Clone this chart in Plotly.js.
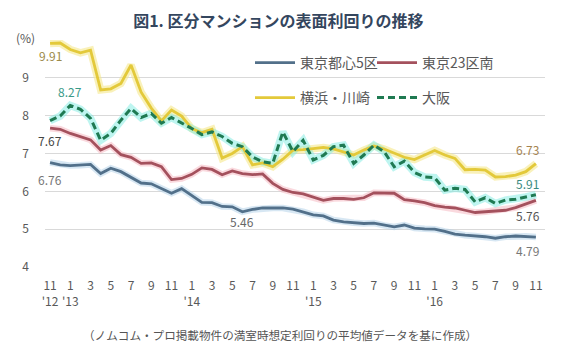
<!DOCTYPE html>
<html>
<head>
<meta charset="utf-8">
<script src="https://cdn.plot.ly/plotly-3.0.1.min.js"></script>
<style>html,body{margin:0;padding:0;background:#fff;}#chart{width:568px;height:358px;}</style>
</head>
<body>
<div id="chart"></div>
<script>
// Months Nov 2012 .. Nov 2016
const months = [
  "2012-11","2012-12",
  "2013-01","2013-02","2013-03","2013-04","2013-05","2013-06","2013-07","2013-08","2013-09","2013-10","2013-11","2013-12",
  "2014-01","2014-02","2014-03","2014-04","2014-05","2014-06","2014-07","2014-08","2014-09","2014-10","2014-11","2014-12",
  "2015-01","2015-02","2015-03","2015-04","2015-05","2015-06","2015-07","2015-08","2015-09","2015-10","2015-11","2015-12",
  "2016-01","2016-02","2016-03","2016-04","2016-05","2016-06","2016-07","2016-08","2016-09","2016-10","2016-11"
];
const tickMonths = ["2012-11","2013-01","2013-03","2013-05","2013-07","2013-09","2013-11","2014-01","2014-03","2014-05","2014-07","2014-09","2014-11","2015-01","2015-03","2015-05","2015-07","2015-09","2015-11","2016-01","2016-03","2016-05","2016-07","2016-09","2016-11"];
const tickLabels = ["11<br>'12","1<br>'13","3","5","7","9","11","1<br>'14","3","5","7","9","11","1<br>'15","3","5","7","9","11","1<br>'16","3","5","7","9","11"];

const tokyo5 = [6.76,6.70,6.68,6.69,6.71,6.47,6.61,6.52,6.36,6.22,6.20,6.08,5.95,6.07,5.90,5.71,5.70,5.60,5.59,5.46,5.52,5.56,5.56,5.56,5.53,5.46,5.38,5.35,5.24,5.19,5.17,5.15,5.16,5.10,5.06,5.11,5.03,5.01,5.00,4.94,4.87,4.84,4.82,4.80,4.76,4.80,4.82,4.81,4.79];
const tokyo23s = [7.67,7.64,7.53,7.44,7.36,7.09,7.21,6.97,6.90,6.74,6.75,6.65,6.31,6.34,6.45,6.62,6.58,6.44,6.54,6.47,6.44,6.46,6.21,6.05,5.97,5.93,5.85,5.76,5.81,5.81,5.79,5.83,5.96,5.96,5.95,5.78,5.75,5.70,5.62,5.58,5.56,5.50,5.44,5.46,5.49,5.50,5.57,5.66,5.76];
const yokohama = [9.91,9.92,9.75,9.66,9.73,8.68,8.71,8.85,9.34,8.62,8.20,7.86,8.15,7.99,7.66,7.55,7.64,6.88,7.00,7.18,6.70,6.75,6.65,6.85,7.09,7.10,7.13,7.16,7.12,7.04,6.96,7.09,7.20,7.12,7.00,6.90,6.84,6.96,7.08,6.96,6.87,6.57,6.58,6.56,6.38,6.39,6.43,6.52,6.73];
const osaka = [7.87,7.99,8.27,8.17,7.93,7.35,7.53,7.88,8.19,7.95,8.06,7.80,7.95,7.81,7.66,7.50,7.57,7.45,7.27,7.18,6.91,6.78,6.74,7.57,7.05,7.35,6.83,6.95,7.18,7.22,6.74,6.96,7.22,7.05,6.65,6.80,6.50,6.38,6.36,6.03,6.08,6.05,5.72,5.83,5.68,5.77,5.79,5.85,5.91];

const seriesNames = ["東京都心5区","東京23区南","横浜・川崎","大阪"];

const FONT = "'Noto Sans CJK JP', 'Noto Sans', sans-serif";

function glow(y, color, w) {
  return {x: months, y: y, type: 'scatter', mode: 'lines', showlegend: false, hoverinfo: 'skip',
          line: {color: color, width: w, shape: 'linear'}, cliponaxis: false};
}

const traces = [
  glow(tokyo5, 'rgba(175,208,232,0.5)', 6.5),
  glow(tokyo23s, 'rgba(245,180,190,0.5)', 6.5),
  glow(yokohama, 'rgba(245,232,140,0.6)', 7.5),
  glow(osaka, 'rgba(125,235,225,0.5)', 7.5),
  {x: months, y: tokyo5, name: seriesNames[0], type: 'scatter', mode: 'lines', legend: 'legend',
   line: {color: '#52708a', width: 2.8}, cliponaxis: false},
  {x: months, y: tokyo23s, name: seriesNames[1], type: 'scatter', mode: 'lines', legend: 'legend',
   line: {color: '#a4515d', width: 2.8}, cliponaxis: false},
  {x: months, y: yokohama, name: seriesNames[2], type: 'scatter', mode: 'lines', legend: 'legend2',
   line: {color: '#e3c93a', width: 2.8}, cliponaxis: false},
  {x: months, y: osaka, name: seriesNames[3], type: 'scatter', mode: 'lines', legend: 'legend2',
   line: {color: '#1f7a52', width: 3, dash: '7px,4px'}, cliponaxis: false}
];

const last = months.length - 1;
function lab(xi, y, txt, color, dx, dy) {
  return {x: months[xi], y: y, xref: 'x', yref: 'y', text: txt, showarrow: false,
          xanchor: 'center', yanchor: 'middle',
          xshift: dx, yshift: dy, font: {family: FONT, size: 12, color: color}};
}

const annotations = [
  lab(0, yokohama[0], yokohama[0].toFixed(2), '#9c8a4a', 0, -12),
  lab(2, osaka[2], osaka[2].toFixed(2), '#3a9a88', 0, 14),
  lab(0, tokyo23s[0], tokyo23s[0].toFixed(2), '#444444', 0, -12),
  lab(0, tokyo5[0], tokyo5[0].toFixed(2), '#777777', 0, -17),
  lab(19, tokyo5[19], tokyo5[19].toFixed(2), '#666666', 0, -10),
  lab(last, yokohama[last], yokohama[last].toFixed(2), '#a58350', -8, 14),
  lab(last, osaka[last], osaka[last].toFixed(2), '#3a8a80', -8, 11),
  lab(last, tokyo23s[last], tokyo23s[last].toFixed(2), '#555555', -8, -15),
  lab(last, tokyo5[last], tokyo5[last].toFixed(2), '#777777', -8, -13),
  {x: (25 - 45) / 500, y: 1 - (38 - 40) / 227, xref: 'paper', yref: 'paper', text: '(%)', showarrow: false,
   xanchor: 'center', yanchor: 'middle', font: {family: FONT, size: 12, color: '#555555'}},
  {text: '（ノムコム・プロ掲載物件の満室時想定利回りの平均値データを基に作成）', xref: 'paper', yref: 'paper',
   x: (280 - 45) / 500, y: -(335 - 267) / 227, xanchor: 'center', yanchor: 'middle', showarrow: false,
   font: {family: FONT, size: 11.6, color: '#555555'}}
];

const layout = {
  width: 568, height: 358,
  margin: {l: 45, r: 23, t: 40, b: 91},
  paper_bgcolor: '#ffffff', plot_bgcolor: '#ffffff',
  font: {family: FONT, color: '#595959'},
  title: {text: '<b>図1. 区分マンションの表面利回りの推移</b>', x: 0.49, xanchor: 'center', y: 0.94, yanchor: 'middle',
          font: {family: FONT, size: 16, color: '#34465e'}},
  xaxis: {type: 'category', range: [-0.5, 48.9], tickmode: 'array', tickvals: tickMonths, ticktext: tickLabels,
          showgrid: false, zeroline: false, showline: false, ticks: '', ticklabelstandoff: 10,
          tickfont: {family: FONT, size: 12, color: '#595959'}},
  yaxis: {range: [4, 10], tickmode: 'array', tickvals: [4,5,6,7,8,9,10], ticktext: ['4','5','6','7','8','9',''],
          showgrid: true, gridcolor: '#d9d9d9', gridwidth: 1, zeroline: false, showline: false, ticks: '',
          ticklabelstandoff: 15, tickfont: {family: FONT, size: 12, color: '#595959'}},
  legend: {orientation: 'h', x: 0.41, xanchor: 'left', y: 1 - (63 - 40) / 227, yanchor: 'middle',
           bgcolor: 'rgba(0,0,0,0)', entrywidth: 67, entrywidthmode: 'pixels', itemwidth: 40,
           font: {family: FONT, size: 14, color: '#595959'}},
  legend2: {orientation: 'h', x: 0.41, xanchor: 'left', y: 1 - (98 - 40) / 227, yanchor: 'middle',
           bgcolor: 'rgba(0,0,0,0)', entrywidth: 67, entrywidthmode: 'pixels', itemwidth: 40,
           font: {family: FONT, size: 14, color: '#595959'}},
  annotations: annotations,
  showlegend: true
};

Plotly.newPlot('chart', traces, layout, {staticPlot: true, displayModeBar: false});
</script>
</body>
</html>
